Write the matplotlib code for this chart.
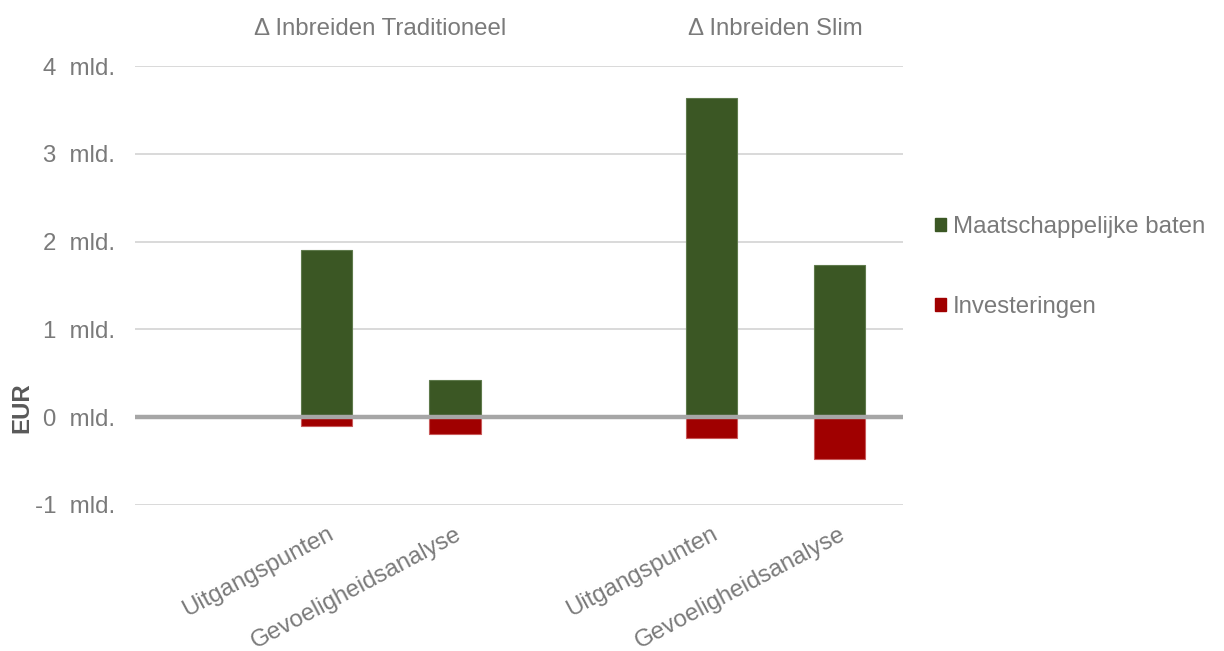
import numpy as np
import matplotlib.pyplot as plt
from matplotlib.patches import Patch

plt.rcParams['font.family'] = ['Liberation Sans', 'DejaVu Sans']

# --- Data (billion EUR) ---
groups = ["\u0394 Inbreiden Traditioneel", "\u0394 Inbreiden Slim"]
scenarios = ["Uitgangspunten", "Gevoeligheidsanalyse",
             "Uitgangspunten", "Gevoeligheidsanalyse"]
baten = [1.90, 0.42, 3.64, 1.73]
investeringen = [-0.10, -0.19, -0.24, -0.48]
yticks = [-1, 0, 1, 2, 3, 4]

green = "#3B5724"
red = "#A00000"
text_grey = "#7a7a7a"
fs = 17.3

fig = plt.figure(figsize=(12.24, 6.51), dpi=100)
ax = fig.add_axes([0.110, 0.2243, 0.628, 0.6743])

# one empty slot in front of each group
x = np.array([1, 2, 4, 5])
w = 0.40
ax.bar(x, baten, w, color=green, edgecolor="#5f7a4c", linewidth=0.8, zorder=3)
ax.bar(x, investeringen, w, color=red, edgecolor="#c85a5a", linewidth=0.8, zorder=3)

ax.set_xlim(-0.5, 5.5)
ax.set_ylim(-1, 4)
ax.set_yticks(yticks)
ax.set_yticklabels([f"{v}  mld." for v in yticks], color=text_grey, fontsize=fs)
ax.yaxis.grid(True, color="#d9d9d9", linewidth=1.4, zorder=0)
ax.axhline(0, color="#a6a6a6", linewidth=3.2, zorder=4)
ax.tick_params(axis="y", length=0, pad=14)

ax.set_xticks(x)
ax.set_xticklabels(scenarios, rotation=28, ha="right", rotation_mode="anchor",
                   color=text_grey, fontsize=fs)
ax.tick_params(axis="x", length=0, pad=13)

for s in ax.spines.values():
    s.set_visible(False)

# group headers above the bars
for gx, name in zip([1.42, 4.5], groups):
    ax.text(gx, 1.085, name, transform=ax.get_xaxis_transform(),
            ha="center", va="center", color=text_grey, fontsize=fs)

fig.text(22 / 1224, 1 - 408 / 651, "EUR", rotation=90, ha="center", va="center",
         fontsize=fs, fontweight="bold", color="#595959")

handles = [Patch(facecolor=green, edgecolor=green, label="Maatschappelijke baten"),
           Patch(facecolor=red, edgecolor=red, label="Investeringen")]
leg = fig.legend(handles=handles, loc="upper left", bbox_to_anchor=(923 / 1224, 1 - 204 / 651),
                 frameon=False, fontsize=fs, handlelength=0.45, handleheight=0.45,
                 handletextpad=0.3, labelspacing=2.4, borderpad=0)
for t in leg.get_texts():
    t.set_color(text_grey)

fig.savefig("out.png", dpi=100, facecolor="white")
